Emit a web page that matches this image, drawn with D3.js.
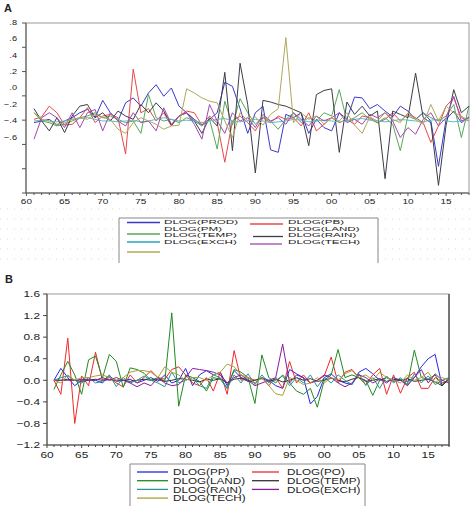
<!DOCTYPE html>
<html>
<head>
<meta charset="utf-8">
<script src="https://cdn.jsdelivr.net/npm/d3@7"></script>
<style>
  body { margin: 0; background: #fff; }
  text { font-family: "Liberation Sans", Arial, sans-serif; fill: #222; }
</style>
</head>
<body>
<div id="chart"></div>
<script>
// years on the x axis, 1961..2018
var years = d3.range(1961, 2019);
var yearLabels = [1960, 1965, 1970, 1975, 1980, 1985, 1990, 1995, 2000, 2005, 2010, 2015];

// ---- panel A ----
var ticksA = [0.8, 0.6, 0.4, 0.2, 0.0, -0.2, -0.4, -0.6];
var namesA = ["DLOG(PROD)", "DLOG(PB)", "DLOG(PM)", "DLOG(LAND)", "DLOG(TEMP)", "DLOG(RAIN)", "DLOG(EXCH)", "DLOG(TECH)"];

var prodA = [-0.42, -0.40, -0.38, -0.45, -0.40, -0.36, -0.30, -0.26, -0.36, -0.15,
             -0.30, -0.40, -0.18, -0.12, -0.22, -0.06, 0.04, -0.10, 0.00, -0.22,
             -0.30, -0.38, -0.45, -0.38, -0.30, 0.07, 0.02, -0.25, -0.55, -0.30,
             -0.22, -0.75, -0.78, -0.32, -0.36, -0.30, -0.55, -0.38, -0.48, -0.52,
             -0.30, -0.38, -0.11, -0.12, -0.25, -0.20, -0.28, -0.35, -0.22, -0.28,
             -0.38, -0.30, -0.40, -0.95, -0.38, -0.28, -0.42, -0.35];
var pbA = [-0.38, -0.35, -0.22, -0.30, -0.45, -0.44, -0.36, -0.24, -0.42, -0.34,
           -0.32, -0.36, -0.80, 0.23, -0.30, -0.25, -0.40, -0.30, -0.46, -0.34,
           -0.28, -0.30, -0.45, -0.34, -0.42, -0.90, -0.40, -0.34, -0.42, -0.52,
           -0.36, -0.42, -0.34, -0.38, -0.36, -0.46, -0.30, -0.52, -0.44, -0.36,
           -0.42, -0.38, -0.44, -0.34, -0.36, -0.42, -0.38, -0.30, -0.40, -0.32,
           -0.36, -0.42, -0.66, -0.46, -0.22, -0.12, -0.36, -0.40];
var tempA = [-0.30, -0.40, -0.42, -0.46, -0.44, -0.40, -0.36, -0.34, -0.30, -0.36,
             -0.34, -0.38, -0.42, -0.40, -0.55, -0.08, -0.36, -0.40, -0.38, -0.42,
             -0.36, -0.40, -0.46, -0.38, -0.74, -0.16, -0.45, -0.13, -0.30, -0.44,
             -0.35, -0.40, -0.50, -0.38, -0.30, -0.42, -0.36, -0.40, -0.30, -0.34,
             -0.02, -0.40, -0.36, -0.30, -0.38, -0.42, -0.36, -0.44, -0.76, -0.34,
             -0.38, -0.30, -0.36, -0.40, -0.34, -0.20, -0.60, -0.22];
var rainA = [-0.25, -0.40, -0.52, -0.36, -0.54, -0.34, -0.22, -0.20, -0.36, -0.30,
             -0.40, -0.28, -0.34, -0.38, -0.20, -0.30, -0.18, -0.28, -0.45, -0.34,
             -0.30, -0.40, -0.55, -0.36, -0.46, 0.19, -0.76, 0.30, -0.20, -1.03,
             -0.15, -0.17, -0.20, -0.22, -0.26, -0.30, -0.70, -0.08, -0.03, -0.01,
             -0.78, -0.17, -0.32, -0.22, -0.34, -0.28, -1.10, -0.28, -0.32, -0.36,
             0.18, -0.36, -0.42, -1.18, -0.45, -0.02, -0.30, -0.22];
var exchA = [-0.40, -0.39, -0.40, -0.41, -0.40, -0.38, -0.37, -0.36, -0.38, -0.40,
             -0.40, -0.41, -0.40, -0.39, -0.41, -0.40, -0.38, -0.36, -0.38, -0.40,
             -0.39, -0.40, -0.42, -0.40, -0.38, -0.37, -0.40, -0.41, -0.40, -0.38,
             -0.40, -0.42, -0.41, -0.40, -0.38, -0.39, -0.41, -0.40, -0.39, -0.40,
             -0.41, -0.40, -0.38, -0.37, -0.39, -0.40, -0.41, -0.40, -0.38, -0.39,
             -0.40, -0.41, -0.39, -0.38, -0.40, -0.41, -0.40, -0.39];
var techA = [-0.62, -0.36, -0.30, -0.36, -0.48, -0.30, -0.48, -0.30, -0.26, -0.52,
             -0.30, -0.40, -0.46, -0.30, -0.42, -0.40, -0.52, -0.24, -0.44, -0.34,
             -0.30, -0.44, -0.62, -0.20, -0.40, -0.55, -0.30, -0.40, -0.36, -0.48,
             -0.32, -0.40, -0.36, -0.44, -0.30, -0.38, -0.46, -0.34, -0.40, -0.36,
             -0.30, -0.42, -0.38, -0.44, -0.32, -0.36, -0.30, -0.40, -0.60, -0.48,
             -0.56, -0.38, -0.30, -0.46, -0.36, -0.10, -0.40, -0.36];
var otherA = [-0.30, -0.38, -0.40, -0.44, -0.42, -0.38, -0.36, -0.38, -0.32, -0.36,
              -0.38, -0.50, -0.55, -0.42, -0.36, -0.40, -0.44, -0.50, -0.46, -0.45,
              -0.01, -0.06, -0.12, -0.16, -0.18, -0.40, -0.60, -0.30, -0.40, -0.35,
              -0.45, -0.32, -0.25, 0.61, -0.42, -0.30, -0.38, -0.34, -0.44, -0.36,
              -0.40, -0.30, -0.45, -0.55, -0.35, -0.40, -0.30, -0.38, -0.42, -0.30,
              -0.38, -0.44, -0.20, -0.40, -0.22, -0.30, -0.34, -0.40];

// ---- panel B ----
var ticksB = [1.6, 1.2, 0.8, 0.4, 0.0, -0.4, -0.8, -1.2];
var namesB = ["DLOG(PP)", "DLOG(PO)", "DLOG(LAND)", "DLOG(TEMP)", "DLOG(RAIN)", "DLOG(EXCH)", "DLOG(TECH)"];

var ppB = [0.00, 0.22, 0.05, -0.10, 0.00, 0.02, 0.00, -0.05, 0.08, -0.02,
           0.00, 0.02, -0.05, 0.00, 0.05, -0.02, 0.10, -0.05, 0.00, 0.22,
           -0.10, 0.10, 0.18, 0.10, 0.15, -0.10, 0.18, 0.05, 0.00, -0.05,
           0.05, 0.00, -0.10, -0.15, 0.20, 0.12, 0.05, -0.44, -0.30, 0.05,
           0.12, 0.00, -0.05, -0.08, 0.15, 0.22, 0.12, 0.00, 0.05, -0.02,
           0.00, -0.02, 0.05, 0.25, 0.40, 0.48, -0.10, 0.05];
var poB = [0.00, -0.26, 0.78, -0.80, 0.08, -0.10, 0.52, 0.00, 0.05, -0.05,
           -0.12, 0.10, -0.05, 0.05, 0.18, 0.05, 0.02, 0.20, 0.25, 0.10,
           -0.05, -0.10, 0.05, -0.20, 0.15, -0.26, 0.55, 0.00, 0.05, 0.00,
           0.05, -0.10, 0.05, -0.15, 0.35, -0.05, 0.10, -0.05, 0.00, 0.08,
           0.43, -0.05, 0.15, 0.20, 0.05, -0.08, 0.10, 0.22, -0.26, 0.10,
           -0.24, 0.05, 0.15, -0.15, -0.15, 0.05, -0.05, 0.00];
var landB = [-0.17, 0.10, 0.35, 0.10, -0.26, 0.38, 0.45, 0.04, 0.48, 0.35,
             -0.13, 0.23, 0.20, 0.13, 0.00, 0.05, -0.02, 1.25, -0.48, 0.10,
             0.05, -0.02, -0.20, 0.05, 0.02, -0.15, 0.20, 0.15, 0.05, -0.43,
             0.47, 0.05, -0.05, 0.10, -0.05, -0.20, -0.26, -0.15, -0.50, 0.00,
             0.10, 0.57, 0.05, 0.10, 0.05, 0.00, -0.28, 0.00, 0.05, 0.00,
             0.02, -0.08, 0.56, 0.05, 0.02, 0.10, -0.10, 0.05];
var tempB = [0.00, 0.00, 0.02, 0.00, -0.02, 0.00, 0.02, 0.00, 0.01, 0.00,
             0.00, -0.02, 0.00, 0.02, 0.00, 0.01, -0.02, 0.00, 0.03, 0.02,
             0.00, -0.03, 0.02, 0.00, 0.03, -0.05, 0.02, 0.04, -0.02, 0.00,
             0.03, -0.02, 0.02, -0.03, 0.00, 0.05, 0.00, 0.03, -0.02, 0.00,
             0.04, 0.00, -0.03, 0.02, 0.05, -0.02, 0.00, 0.03, -0.02, 0.02,
             0.00, 0.03, -0.02, 0.00, 0.02, -0.03, -0.10, 0.02];
var rainB = [0.00, 0.05, 0.08, 0.00, -0.05, 0.05, -0.05, -0.02, 0.10, -0.12,
             0.05, -0.05, 0.00, 0.08, 0.00, -0.05, -0.12, 0.15, -0.05, 0.00,
             0.05, -0.10, -0.15, 0.10, 0.05, -0.15, 0.10, -0.05, 0.12, -0.08,
             0.10, -0.05, 0.00, 0.08, -0.10, 0.05, -0.05, 0.10, -0.12, 0.05,
             -0.05, 0.10, 0.00, -0.08, 0.12, -0.10, 0.05, -0.15, 0.08, -0.05,
             0.05, -0.10, 0.12, -0.05, 0.08, -0.08, 0.00, 0.05];
var exchB = [0.00, 0.00, 0.00, 0.00, 0.02, 0.00, 0.00, 0.05, 0.00, 0.05,
             0.00, -0.05, -0.12, -0.05, -0.10, 0.05, -0.05, -0.10, -0.08, 0.05,
             0.22, 0.20, 0.18, 0.15, 0.10, -0.05, 0.05, 0.10, 0.00, -0.10,
             -0.05, 0.00, 0.05, 0.67, -0.05, 0.10, 0.05, -0.05, 0.00, 0.10,
             0.05, -0.05, -0.12, -0.05, 0.10, 0.05, -0.05, 0.02, -0.05, 0.05,
             0.00, -0.10, 0.05, 0.20, -0.05, 0.12, 0.00, -0.05];
var techB = [0.00, -0.05, 0.10, 0.00, 0.05, 0.05, 0.08, 0.10, 0.05, 0.00,
             0.05, 0.15, 0.18, 0.18, 0.15, 0.05, 0.25, 0.15, 0.10, 0.00,
             0.05, 0.05, 0.00, 0.10, 0.15, 0.30, 0.25, 0.10, 0.05, -0.05,
             0.05, -0.10, -0.25, -0.28, 0.05, 0.00, -0.08, -0.05, 0.05, -0.05,
             0.05, 0.00, 0.12, 0.18, 0.05, 0.10, 0.00, 0.15, 0.05, 0.00,
             -0.05, 0.10, 0.00, 0.05, 0.15, -0.05, 0.05, 0.00];

var colorsA = ["#3a3ac8", "#e84848", "#58a858", "#3c3c48", "#5cbccc", "#a048b0", "#b0a858"];
var colorsB = ["#2626e6", "#ee2a2a", "#208a20", "#333333", "#2a9494", "#8a1c9c", "#a8a038"];

var svg = d3.select("#chart").append("svg")
    .attr("width", 474)
    .attr("height", 506);

// stretched text, the source image is squashed vertically
function label(g, x, y, txt, size, sx, anchor, weight, sy) {
  g.append("text")
    .attr("transform", "translate(" + x + "," + y + ") scale(" + sx + "," + (sy || 1) + ")")
    .attr("text-anchor", anchor || "start")
    .attr("font-size", size)
    .attr("font-weight", weight || "normal")
    .text(txt);
}

function twoDigit(yr) { return d3.format("02d")(yr % 100); }

// ================= panel A =================
var gA = svg.append("g");
var xA = d3.scaleLinear().domain([1960, 2018]).range([26.4, 469]);
var yA = d3.scaleLinear().domain([-1.273, 0.788]).range([193, 23]);

// faint dotted pattern behind the legend
d3.range(209, 264, 10).forEach(function (yy) {
  gA.append("line").attr("x1", 0).attr("x2", 474).attr("y1", yy).attr("y2", yy)
    .attr("stroke", "#d8d8d8").attr("stroke-width", 1).attr("stroke-dasharray", "1,6");
});

label(gA, 4, 12, "A", 11, 1, "start", "bold");

// frame
gA.append("rect").attr("x", 26).attr("y", 23)
  .attr("width", 469 - 26).attr("height", 170)
  .attr("fill", "#fff").attr("stroke", "#999").attr("stroke-width", 1);
gA.append("line").attr("x1", 26).attr("x2", 26).attr("y1", 23).attr("y2", 193).attr("stroke", "#555");
gA.append("line").attr("x1", 26).attr("x2", 469).attr("y1", 193).attr("y2", 193).attr("stroke", "#555");

// left tick marks (evenly spread over the frame)
var dA = yA.domain();
d3.range(8).forEach(function (i) {
  var v = dA[1] - i * (dA[1] - dA[0]) / 7;
  gA.append("line").attr("x1", 22).attr("x2", 26).attr("y1", yA(v)).attr("y2", yA(v)).attr("stroke", "#555");
});
ticksA.forEach(function (t) {
  var s = d3.format(".1f")(t).replace("0.", ".");
  label(gA, 17, yA(t) + 2.5, s, 8, 1.15, "end");
});

// year ticks
years.concat([1960]).forEach(function (yr) {
  gA.append("line").attr("x1", xA(yr)).attr("x2", xA(yr)).attr("y1", 193).attr("y2", yr % 5 === 0 ? 196 : 195).attr("stroke", "#555");
});
yearLabels.forEach(function (yr) {
  label(gA, xA(yr), 204, twoDigit(yr), 8, 1.25, "middle");
});

var lineA = d3.line().x(function (d, i) { return xA(years[i]); }).y(function (d) { return yA(d); });
[prodA, pbA, tempA, rainA, exchA, techA, otherA].forEach(function (s, i) {
  gA.append("path").datum(s).attr("d", lineA)
    .attr("fill", "none").attr("stroke", colorsA[i]).attr("stroke-width", 1);
});

// legend A (open at the bottom, clipped in the source)
gA.append("path").attr("d", "M119,263V218H378V263").attr("fill", "#fff").attr("stroke", "#888");
var legTextA = [[164, 224, namesA[0]], [288, 224, namesA[1]], [164, 230.5, namesA[2]], [288, 230.5, namesA[3]],
                [164, 237, namesA[4]], [288, 237, namesA[5]], [164, 243.5, namesA[6]], [288, 243.5, namesA[7]]];
legTextA.forEach(function (d) { label(gA, d[0], d[1], d[2], 7, 1.66, "start", "normal", 0.78); });
var legLineA = [[127, 160, 222.5, 0], [250, 283, 224, 1], [127, 160, 234, 2], [253, 283, 236.5, 3],
                [127, 160, 242, 4], [250, 282, 244, 5], [127, 160, 252, 6]];
legLineA.forEach(function (d) {
  gA.append("line").attr("x1", d[0]).attr("x2", d[1]).attr("y1", d[2]).attr("y2", d[2])
    .attr("stroke", colorsA[d[3]]).attr("stroke-width", d[3] === 4 ? 2 : 1.3);
});

// ================= panel B =================
var gB = svg.append("g");
var xB = d3.scaleLinear().domain([1960, 2018]).range([47, 449]);
var yB = d3.scaleLinear().domain([-1.2, 1.6]).range([445, 294]);

label(gB, 5, 283, "B", 11, 1, "start", "bold");

gB.append("rect").attr("x", 47).attr("y", 294).attr("width", 402).attr("height", 151)
  .attr("fill", "#fff").attr("stroke", "#999").attr("stroke-width", 1);
gB.append("line").attr("x1", 449).attr("x2", 449).attr("y1", 294).attr("y2", 446).attr("stroke", "#777").attr("stroke-width", 2);
gB.append("line").attr("x1", 47).attr("x2", 47).attr("y1", 294).attr("y2", 445).attr("stroke", "#444");
gB.append("line").attr("x1", 47).attr("x2", 449).attr("y1", 445).attr("y2", 445).attr("stroke", "#444");

ticksB.forEach(function (t) {
  gB.append("line").attr("x1", 43).attr("x2", 47).attr("y1", yB(t)).attr("y2", yB(t)).attr("stroke", "#444");
  label(gB, 40, yB(t) + 3.3, d3.format(".1f")(t), 9.5, 1.25, "end");
});
years.concat([1960]).forEach(function (yr) {
  gB.append("line").attr("x1", xB(yr)).attr("x2", xB(yr)).attr("y1", 445).attr("y2", yr % 5 === 0 ? 448 : 447).attr("stroke", "#444");
});
yearLabels.forEach(function (yr) {
  label(gB, xB(yr), 457.5, twoDigit(yr), 9.5, 1.25, "middle");
});

var lineB = d3.line().x(function (d, i) { return xB(years[i]); }).y(function (d) { return yB(d); });
[ppB, poB, landB, tempB, rainB, exchB, techB].forEach(function (s, i) {
  gB.append("path").datum(s).attr("d", lineB)
    .attr("fill", "none").attr("stroke", colorsB[i]).attr("stroke-width", 1);
});

// legend B
gB.append("path").attr("d", "M130,506V464H365V506").attr("fill", "#fff").attr("stroke", "#888");
namesB.forEach(function (n, i) {
  var col = i % 2, row = Math.floor(i / 2);
  var cy = 472 + row * 8.7;
  var lx = col === 0 ? [137, 168] : [252, 279];
  gB.append("line").attr("x1", lx[0]).attr("x2", lx[1]).attr("y1", cy).attr("y2", cy)
    .attr("stroke", colorsB[i]).attr("stroke-width", 1.3);
  label(gB, col === 0 ? 173 : 287, cy + 3.2, n, 9, 1.3, "start");
});
</script>
</body>
</html>
